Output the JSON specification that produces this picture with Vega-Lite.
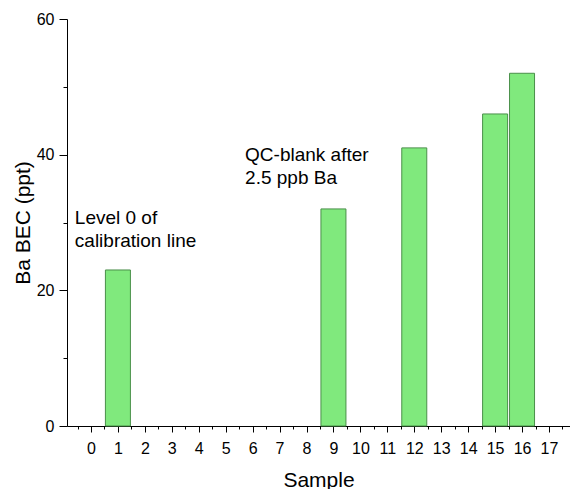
{
  "$schema": "https://vega.github.io/schema/vega-lite/v6.json",
  "width": 503,
  "height": 407,
  "autosize": "none",
  "padding": {"left": 67, "top": 19, "right": 0, "bottom": 63},
  "background": "white",
  "config": {
    "view": {"stroke": null},
    "font": "Liberation Sans",
    "axis": {"grid": false, "domainColor": "black", "tickColor": "black", "labelColor": "black", "titleColor": "black", "labelFont": "Liberation Sans", "titleFont": "Liberation Sans", "titleFontWeight": "normal"}
  },
  "datasets": {
    "bars": [
      {"Sample": 1, "BEC": 23},
      {"Sample": 9, "BEC": 32},
      {"Sample": 12, "BEC": 41},
      {"Sample": 15, "BEC": 46},
      {"Sample": 16, "BEC": 52}
    ],
    "notes": [
      {"Sample": -0.6, "BEC": 30.6, "label": ["Level 0 of", "calibration line"]},
      {"Sample": 5.72, "BEC": 39.9, "label": ["QC-blank after", "2.5 ppb Ba"]}
    ]
  },
  "resolve": {"axis": {"x": "independent"}},
  "layer": [
    {
      "data": {"name": "bars"},
      "mark": {"type": "bar", "size": 25, "fill": "#80e97d", "stroke": "#4a8f4a", "strokeWidth": 1},
      "encoding": {
        "x": {
          "field": "Sample", "type": "quantitative",
          "scale": {"domain": [-0.89, 17.78], "nice": false, "zero": false, "padding": 0},
          "axis": {
            "orient": "bottom",
            "title": "Sample", "titleFontSize": 21, "titlePadding": 13,
            "values": [0, 1, 2, 3, 4, 5, 6, 7, 8, 9, 10, 11, 12, 13, 14, 15, 16, 17],
            "labelFontSize": 16, "labelPadding": 8, "labelFlush": false, "labelOverlap": false,
            "tickSize": 6, "domainWidth": 1, "tickWidth": 1
          }
        },
        "y": {
          "field": "BEC", "type": "quantitative",
          "scale": {"domain": [0, 60], "nice": false},
          "axis": {
            "title": "Ba BEC (ppt)", "titleFontSize": 21, "titlePadding": 3,
            "values": [0, 10, 20, 30, 40, 50, 60],
            "labelExpr": "datum.value % 20 == 0 ? datum.label : ''",
            "labelFontSize": 16, "labelPadding": 5, "labelFlush": false,
            "tickSize": {"condition": {"test": "datum.value % 20 != 0", "value": 4}, "value": 8},
            "domainWidth": 1, "tickWidth": 1
          }
        }
      }
    },
    {
      "data": {"name": "notes"},
      "mark": {"type": "text", "align": "left", "baseline": "middle", "fontSize": 19, "lineHeight": 23, "color": "black", "font": "Liberation Sans"},
      "encoding": {
        "x": {
          "field": "Sample", "type": "quantitative",
          "axis": {
            "orient": "bottom", "title": null, "labels": false, "domain": false,
            "values": [-0.5, 0.5, 1.5, 2.5, 3.5, 4.5, 5.5, 6.5, 7.5, 8.5, 9.5, 10.5, 11.5, 12.5, 13.5, 14.5, 15.5, 16.5, 17.5],
            "tickSize": 3, "tickWidth": 1
          }
        },
        "y": {"field": "BEC", "type": "quantitative"},
        "text": {"field": "label"}
      }
    }
  ]
}
